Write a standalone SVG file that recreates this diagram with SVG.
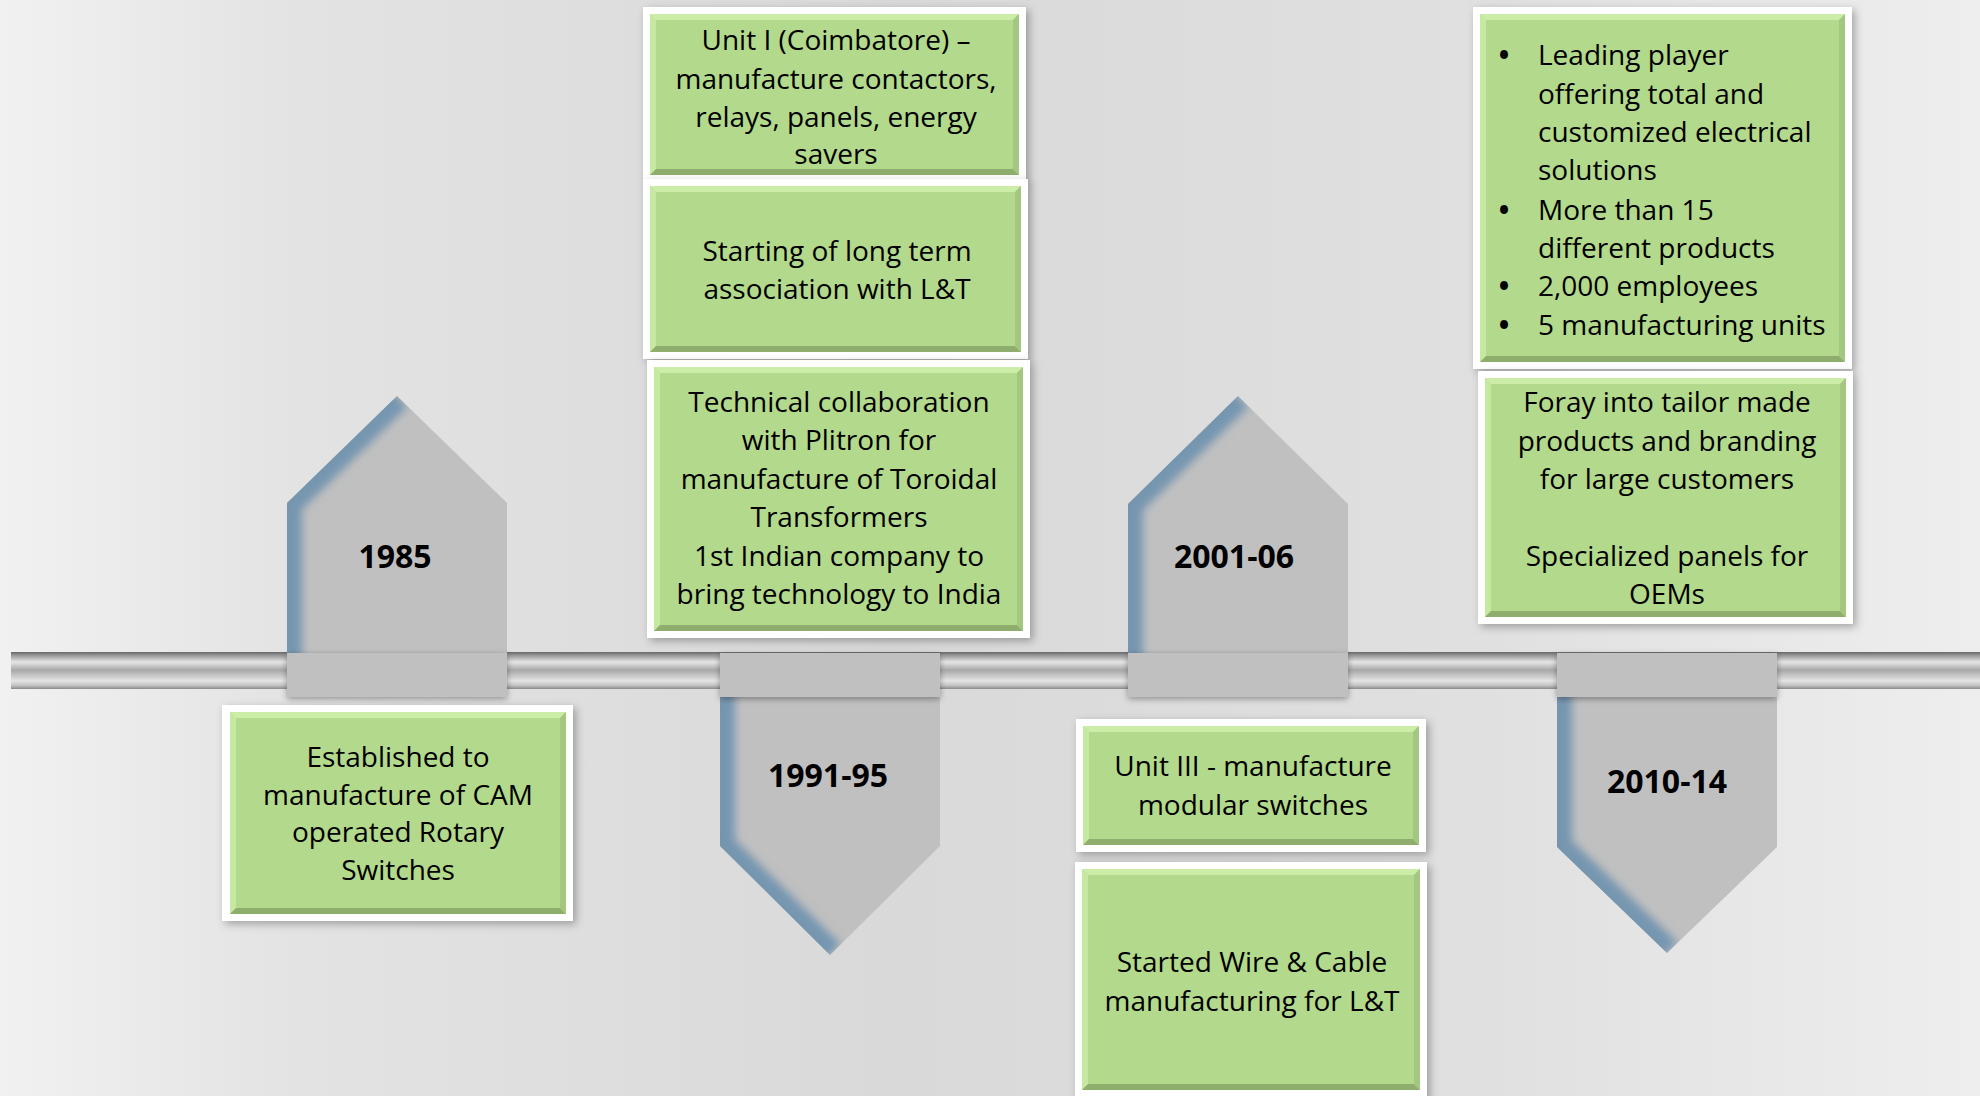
<svg xmlns="http://www.w3.org/2000/svg" width="1980" height="1096" viewBox="0 0 1980 1096">
<defs>
  <linearGradient id="bg" x1="0" y1="0" x2="1" y2="0">
    <stop offset="0" stop-color="#f1f1f1"/>
    <stop offset="0.15" stop-color="#e3e3e3"/>
    <stop offset="0.45" stop-color="#d9d9d9"/>
    <stop offset="0.75" stop-color="#e0e0e0"/>
    <stop offset="1" stop-color="#eeeeee"/>
  </linearGradient>
  <linearGradient id="bar" x1="0" y1="0" x2="0" y2="1">
    <stop offset="0" stop-color="#666666"/>
    <stop offset="0.07" stop-color="#8e8e8e"/>
    <stop offset="0.27" stop-color="#e6e6e6"/>
    <stop offset="0.49" stop-color="#a8a8a8"/>
    <stop offset="0.78" stop-color="#e4e4e4"/>
    <stop offset="0.9" stop-color="#c4c4c4"/>
    <stop offset="1" stop-color="#8a8a8a"/>
  </linearGradient>
  <filter id="blur" x="-20%" y="-20%" width="140%" height="140%">
    <feGaussianBlur stdDeviation="4"/>
  </filter>
  <filter id="tabShadow" x="-10%" y="-30%" width="120%" height="160%">
    <feDropShadow dx="0" dy="2" stdDeviation="3" flood-color="#000" flood-opacity="0.35"/>
  </filter>
  <filter id="boxShadow" x="-10%" y="-10%" width="120%" height="120%">
    <feDropShadow dx="3" dy="3" stdDeviation="4" flood-color="#000" flood-opacity="0.3"/>
  </filter>
  <clipPath id="c1"><polygon points="287,653 287,503 397,396 507,503 507,653"/></clipPath>
  <clipPath id="c2"><polygon points="720,697 940,697 940,846 830,955 720,846"/></clipPath>
  <clipPath id="c3"><polygon points="1128,653 1128,504 1238,396 1348,504 1348,653"/></clipPath>
  <clipPath id="c4"><polygon points="1557,697 1777,697 1777,847 1667,953 1557,847"/></clipPath>
</defs>
<style>
  .t { font-family: "Open Sans", "DejaVu Sans", sans-serif; font-size: 28px; fill: #000; text-anchor: middle; }
  .tl { font-family: "Open Sans", "DejaVu Sans", sans-serif; font-size: 28px; fill: #000; text-anchor: start; }
  .bu { font-family: "Open Sans", "DejaVu Sans", sans-serif; font-size: 28px; font-weight: bold; fill: #000; text-anchor: middle; }
  .yr { font-family: "Open Sans", "DejaVu Sans", sans-serif; font-size: 32px; font-weight: bold; fill: #000; text-anchor: middle; }
  .pent { fill: #c0c0c0; }
  .edge { fill: none; stroke: #7696b0; stroke-width: 30; stroke-linejoin: round; }
  .tab { fill: #c0c0c0; }
  .outer { fill: #ffffff; }
  .green { fill: #b3d98c; }
  .bl { fill: #c6e9a2; }
  .bt { fill: #cbeda8; }
  .bb { fill: #8fae6d; }
  .br { fill: #a3c680; }
</style>
<rect x="0" y="0" width="1980" height="1096" fill="url(#bg)"/>

<g id="connectors">
  <rect x="11" y="652" width="1969" height="37" fill="url(#bar)"/>
</g>

<g id="m1985">
  <polygon class="pent" points="287,653 287,503 397,396 507,503 507,653"/>
  <g clip-path="url(#c1)"><polyline class="edge" filter="url(#blur)" points="287,670 287,503 397,396"/></g>
  <rect class="tab" x="287" y="653" width="220" height="44" filter="url(#tabShadow)"/>
  <text class="yr" x="395" y="568">1985</text>
</g>

<g id="m1991">
  <polygon class="pent" points="720,697 940,697 940,846 830,955 720,846"/>
  <g clip-path="url(#c2)"><polyline class="edge" filter="url(#blur)" points="720,680 720,846 830,955"/></g>
  <rect class="tab" x="720" y="653" width="220" height="44" filter="url(#tabShadow)"/>
  <text class="yr" x="828" y="787">1991-95</text>
</g>

<g id="m2001">
  <polygon class="pent" points="1128,653 1128,504 1238,396 1348,504 1348,653"/>
  <g clip-path="url(#c3)"><polyline class="edge" filter="url(#blur)" points="1128,670 1128,504 1238,396"/></g>
  <rect class="tab" x="1128" y="653" width="220" height="44" filter="url(#tabShadow)"/>
  <text class="yr" x="1234" y="568">2001-06</text>
</g>

<g id="m2010">
  <polygon class="pent" points="1557,697 1777,697 1777,847 1667,953 1557,847"/>
  <g clip-path="url(#c4)"><polyline class="edge" filter="url(#blur)" points="1557,680 1557,847 1667,953"/></g>
  <rect class="tab" x="1557" y="653" width="220" height="44" filter="url(#tabShadow)"/>
  <text class="yr" x="1667" y="793">2010-14</text>
</g>

<g id="box1985">
  <rect class="outer" x="222" y="705" width="351" height="216" filter="url(#boxShadow)"/>
  <rect class="green" x="230" y="712" width="336" height="202"/>
  <polygon class="bt" points="230,712 566,712 560,718 236,718"/>
  <polygon class="bl" points="230,712 236,718 236,908 230,914"/>
  <polygon class="bb" points="230,914 236,908 560,908 566,914"/>
  <polygon class="br" points="566,712 566,914 560,908 560,718"/>
  <text class="t" x="398" y="767">Established to</text>
  <text class="t" x="398" y="805">manufacture of CAM</text>
  <text class="t" x="398" y="842">operated Rotary</text>
  <text class="t" x="398" y="880">Switches</text>
</g>

<g id="boxUnit1">
  <rect class="outer" x="643" y="7" width="383" height="174" filter="url(#boxShadow)"/>
  <rect class="green" x="650" y="14" width="369" height="161"/>
  <polygon class="bt" points="650,14 1019,14 1013,20 656,20"/>
  <polygon class="bl" points="650,14 656,20 656,169 650,175"/>
  <polygon class="bb" points="650,175 656,169 1013,169 1019,175"/>
  <polygon class="br" points="1019,14 1019,175 1013,169 1013,20"/>
  <text class="t" x="836" y="50">Unit I (Coimbatore) –</text>
  <text class="t" x="836" y="89">manufacture contactors,</text>
  <text class="t" x="836" y="127">relays, panels, energy</text>
  <text class="t" x="836" y="164">savers</text>
</g>

<g id="boxLT">
  <rect class="outer" x="643" y="179" width="385" height="180" filter="url(#boxShadow)"/>
  <rect class="green" x="650" y="186" width="371" height="166"/>
  <polygon class="bt" points="650,186 1021,186 1015,192 656,192"/>
  <polygon class="bl" points="650,186 656,192 656,346 650,352"/>
  <polygon class="bb" points="650,352 656,346 1015,346 1021,352"/>
  <polygon class="br" points="1021,186 1021,352 1015,346 1015,192"/>
  <text class="t" x="837" y="261">Starting of long term</text>
  <text class="t" x="837" y="299">association with L&amp;T</text>
</g>

<g id="boxPlitron">
  <rect class="outer" x="647" y="360" width="383" height="278" filter="url(#boxShadow)"/>
  <rect class="green" x="654" y="367" width="369" height="264"/>
  <polygon class="bt" points="654,367 1023,367 1017,373 660,373"/>
  <polygon class="bl" points="654,367 660,373 660,625 654,631"/>
  <polygon class="bb" points="654,631 660,625 1017,625 1023,631"/>
  <polygon class="br" points="1023,367 1023,631 1017,625 1017,373"/>
  <text class="t" x="839" y="412">Technical collaboration</text>
  <text class="t" x="839" y="450">with Plitron for</text>
  <text class="t" x="839" y="489">manufacture of Toroidal</text>
  <text class="t" x="839" y="527">Transformers</text>
  <text class="t" x="839" y="566">1st Indian company to</text>
  <text class="t" x="839" y="604">bring technology to India</text>
</g>

<g id="boxUnit3">
  <rect class="outer" x="1076" y="719" width="350" height="133" filter="url(#boxShadow)"/>
  <rect class="green" x="1083" y="726" width="336" height="119"/>
  <polygon class="bt" points="1083,726 1419,726 1413,732 1089,732"/>
  <polygon class="bl" points="1083,726 1089,732 1089,839 1083,845"/>
  <polygon class="bb" points="1083,845 1089,839 1413,839 1419,845"/>
  <polygon class="br" points="1419,726 1419,845 1413,839 1413,732"/>
  <text class="t" x="1253" y="776">Unit III - manufacture</text>
  <text class="t" x="1253" y="815">modular switches</text>
</g>

<g id="boxWire">
  <rect class="outer" x="1075" y="862" width="352" height="240" filter="url(#boxShadow)"/>
  <rect class="green" x="1082" y="869" width="338" height="221"/>
  <polygon class="bt" points="1082,869 1420,869 1414,875 1088,875"/>
  <polygon class="bl" points="1082,869 1088,875 1088,1084 1082,1090"/>
  <polygon class="bb" points="1082,1090 1088,1084 1414,1084 1420,1090"/>
  <polygon class="br" points="1420,869 1420,1090 1414,1084 1414,875"/>
  <text class="t" x="1252" y="972">Started Wire &amp; Cable</text>
  <text class="t" x="1252" y="1011">manufacturing for L&amp;T</text>
</g>

<g id="boxLeading">
  <rect class="outer" x="1473" y="7" width="379" height="362" filter="url(#boxShadow)"/>
  <rect class="green" x="1480" y="14" width="365" height="348"/>
  <polygon class="bt" points="1480,14 1845,14 1839,20 1486,20"/>
  <polygon class="bl" points="1480,14 1486,20 1486,356 1480,362"/>
  <polygon class="bb" points="1480,362 1486,356 1839,356 1845,362"/>
  <polygon class="br" points="1845,14 1845,362 1839,356 1839,20"/>
  <text class="bu" x="1504" y="65">•</text>
  <text class="tl" x="1538" y="65">Leading player</text>
  <text class="tl" x="1538" y="104">offering total and</text>
  <text class="tl" x="1538" y="142">customized electrical</text>
  <text class="tl" x="1538" y="180">solutions</text>
  <text class="bu" x="1504" y="220">•</text>
  <text class="tl" x="1538" y="220">More than 15</text>
  <text class="tl" x="1538" y="258">different products</text>
  <text class="bu" x="1504" y="296">•</text>
  <text class="tl" x="1538" y="296">2,000 employees</text>
  <text class="bu" x="1504" y="335">•</text>
  <text class="tl" x="1538" y="335">5 manufacturing units</text>
</g>

<g id="boxForay">
  <rect class="outer" x="1478" y="371" width="375" height="253" filter="url(#boxShadow)"/>
  <rect class="green" x="1485" y="378" width="361" height="239"/>
  <polygon class="bt" points="1485,378 1846,378 1840,384 1491,384"/>
  <polygon class="bl" points="1485,378 1491,384 1491,611 1485,617"/>
  <polygon class="bb" points="1485,617 1491,611 1840,611 1846,617"/>
  <polygon class="br" points="1846,378 1846,617 1840,611 1840,384"/>
  <text class="t" x="1667" y="412">Foray into tailor made</text>
  <text class="t" x="1667" y="451">products and branding</text>
  <text class="t" x="1667" y="489">for large customers</text>
  <text class="t" x="1667" y="566">Specialized panels for</text>
  <text class="t" x="1667" y="604">OEMs</text>
</g>
</svg>
